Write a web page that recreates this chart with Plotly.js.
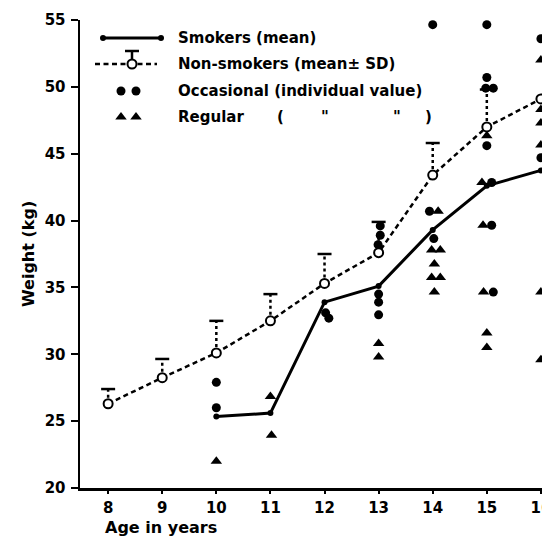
<!DOCTYPE html>
<html>
<head>
<meta charset="utf-8">
<script src="https://cdn.plot.ly/plotly-3.0.1.min.js"></script>
<style>html,body{margin:0;padding:0;background:#fff;}#chart{width:542px;height:536px;}</style>
</head>
<body>
<div id="chart"></div>
<script>
// ---- data ----
var ages = [8, 9, 10, 11, 12, 13, 14, 15, 16];
var nonSmokerMean = [26.3, 28.25, 30.1, 32.5, 35.3, 37.6, 43.4, 47.0, 49.1];
var nonSmokerSD = [1.1, 1.4, 2.4, 2.0, 2.2, 2.3, 2.4, 2.8, null];

var smokerAges = [10, 11, 12, 13, 14, 15, 16];
var smokerMean = [25.35, 25.6, 33.9, 35.1, 39.3, 42.6, 43.75];

var occasionalAge = [10, 10, 12.02, 12.08, 13, 13, 13, 13.03, 13.03, 12.99,
  14, 13.94, 14.02, 15, 15, 14.98, 15.12, 15, 15.09, 15.09, 15.12, 16, 16];
var occasionalWeight = [27.9, 26.0, 33.1, 32.7, 34.5, 33.9, 32.95, 39.6, 38.9, 38.2,
  54.65, 40.7, 38.65, 54.65, 50.7, 49.9, 49.9, 45.6, 42.85, 39.65, 34.65, 53.6, 44.7];

var regularAge = [10, 11, 11.02, 13, 13, 14.1, 13.98, 14.14, 14.03, 13.98, 14.14, 14.03,
  15, 14.91, 14.93, 14.94, 15, 15, 16, 16, 16, 16, 16, 16];
var regularWeight = [22.0, 26.85, 23.95, 30.8, 29.8, 40.7, 37.8, 37.8, 36.75, 35.75, 35.75, 34.65,
  46.35, 42.85, 39.65, 34.65, 31.6, 30.5, 52.0, 48.3, 47.3, 45.65, 34.65, 29.6];

var yTicks = [20, 25, 30, 35, 40, 45, 50, 55];
var xTicks = [8, 9, 10, 11, 12, 13, 14, 15, 16];

var legendLabels = ['Smokers (mean)', 'Non-smokers (mean\u00b1 SD)', 'Occasional (individual value)', 'Regular'];
var xTitle = 'Age in years';
var yTitle = 'Weight (kg)';

// ---- build traces ----
var stemX = [], stemY = [], capX = [], capY = [];
for (var i = 0; i < ages.length; i++) {
  if (nonSmokerSD[i] === null) continue;
  stemX.push(ages[i], ages[i], null);
  stemY.push(nonSmokerMean[i], nonSmokerMean[i] + nonSmokerSD[i], null);
  capX.push(ages[i]);
  capY.push(nonSmokerMean[i] + nonSmokerSD[i]);
}

var FONT = 'DejaVu Sans, sans-serif';
var TXT = {family: FONT, size: 15, color: '#000', weight: 'bold'};
var traces = [
  {x: ages, y: nonSmokerMean, mode: 'lines', line: {color: '#000', width: 2.5, dash: '5px,3.5px'}, hoverinfo: 'skip', cliponaxis: false},
  {x: stemX, y: stemY, mode: 'lines', line: {color: '#000', width: 2.5, dash: 'dot'}, hoverinfo: 'skip', cliponaxis: false},
  {x: capX, y: capY, mode: 'markers', marker: {symbol: 'line-ew', size: 10, line: {color: '#000', width: 2.5}}, cliponaxis: false},
  {x: smokerAges, y: smokerMean, mode: 'lines+markers', line: {color: '#000', width: 3}, marker: {color: '#000', size: 6}, cliponaxis: false},
  {x: occasionalAge, y: occasionalWeight, mode: 'markers', marker: {color: '#000', size: 9, symbol: 'circle'}, cliponaxis: false},
  {x: regularAge, y: regularWeight, mode: 'markers', marker: {color: '#000', size: 10, symbol: 'triangle-up'}, cliponaxis: false},
  {x: ages, y: nonSmokerMean, mode: 'markers', marker: {color: '#fff', size: 9, symbol: 'circle', line: {color: '#000', width: 2}}, cliponaxis: false}
];

// ---- hand-drawn key (pixel frame on overlay axes) ----
var keyRows = [38, 64, 91, 117];
var keyText = 176;
traces.push(
  {x: [103, 161], y: [keyRows[0], keyRows[0]], xaxis: 'x2', yaxis: 'y2', mode: 'lines+markers', line: {color: '#000', width: 3}, marker: {color: '#000', size: 6}, cliponaxis: false},
  {x: [95, 157], y: [keyRows[1], keyRows[1]], xaxis: 'x2', yaxis: 'y2', mode: 'lines', line: {color: '#000', width: 2.5, dash: '5px,3.5px'}, cliponaxis: false},
  {x: [132, 132], y: [keyRows[1], 51], xaxis: 'x2', yaxis: 'y2', mode: 'lines', line: {color: '#000', width: 2.5}, cliponaxis: false},
  {x: [132], y: [51], xaxis: 'x2', yaxis: 'y2', mode: 'markers', marker: {symbol: 'line-ew', size: 10, line: {color: '#000', width: 2.5}}, cliponaxis: false},
  {x: [132], y: [keyRows[1]], xaxis: 'x2', yaxis: 'y2', mode: 'markers', marker: {color: '#fff', size: 9, line: {color: '#000', width: 2}}, cliponaxis: false},
  {x: [121, 136], y: [keyRows[2], keyRows[2]], xaxis: 'x2', yaxis: 'y2', mode: 'markers', marker: {color: '#000', size: 9}, cliponaxis: false},
  {x: [121, 136], y: [keyRows[3], keyRows[3]], xaxis: 'x2', yaxis: 'y2', mode: 'markers', marker: {color: '#000', size: 10, symbol: 'triangle-up'}, cliponaxis: false}
);

var ann = [];
for (var r = 0; r < 4; r++) {
  ann.push({x: keyText, y: keyRows[r], xref: 'x2', yref: 'y2', text: legendLabels[r], showarrow: false, xanchor: 'left', yanchor: 'middle', font: TXT});
}
var ditto = [['(', 280], ['"', 325], ['"', 397], [')', 428]];
ditto.forEach(function (d) {
  ann.push({x: d[1], y: keyRows[3], xref: 'x2', yref: 'y2', text: d[0], showarrow: false, xanchor: 'center', yanchor: 'middle', font: TXT});
});
// paper coords: plot area spans x 80..542 px, y 20..488 px
ann.push({x: (103 - 80) / 462, y: (488 - 527) / 468, xref: 'paper', yref: 'paper', text: xTitle, showarrow: false, xanchor: 'left', yanchor: 'middle', font: {family: FONT, size: 16, color: '#000', weight: 'bold'}});
ann.push({x: (28 - 80) / 462, y: 0.5, xref: 'paper', yref: 'paper', text: yTitle, textangle: -90, showarrow: false, xanchor: 'center', yanchor: 'middle', font: {family: FONT, size: 16, color: '#000', weight: 'bold'}});

var layout = {
  width: 542, height: 536,
  margin: {l: 80, r: 0, t: 20, b: 48},
  paper_bgcolor: '#fff', plot_bgcolor: '#fff',
  showlegend: false,
  font: TXT,
  xaxis: {range: [7.48, 16.02], tickvals: xTicks, ticktext: xTicks.map(String), showgrid: false, zeroline: false,
    showline: true, linecolor: '#000', linewidth: 2.5, ticks: 'outside', ticklen: 3, tickwidth: 2, tickcolor: '#000',
    ticklabelstandoff: 1, ticklabeloverflow: 'allow', tickfont: TXT, fixedrange: true},
  yaxis: {range: [20, 55], tickvals: yTicks, ticktext: yTicks.map(String), showgrid: false, zeroline: false,
    showline: true, linecolor: '#000', linewidth: 2.5, ticks: 'outside', ticklen: 7, tickwidth: 2, tickcolor: '#000',
    ticklabelstandoff: 2, tickfont: TXT, fixedrange: true},
  xaxis2: {overlaying: 'x', range: [80, 542], visible: false, fixedrange: true},
  yaxis2: {overlaying: 'y', range: [488, 20], autorange: false, visible: false, fixedrange: true},
  annotations: ann
};

Plotly.newPlot('chart', traces, layout, {staticPlot: true, displayModeBar: false});
</script>
</body>
</html>
